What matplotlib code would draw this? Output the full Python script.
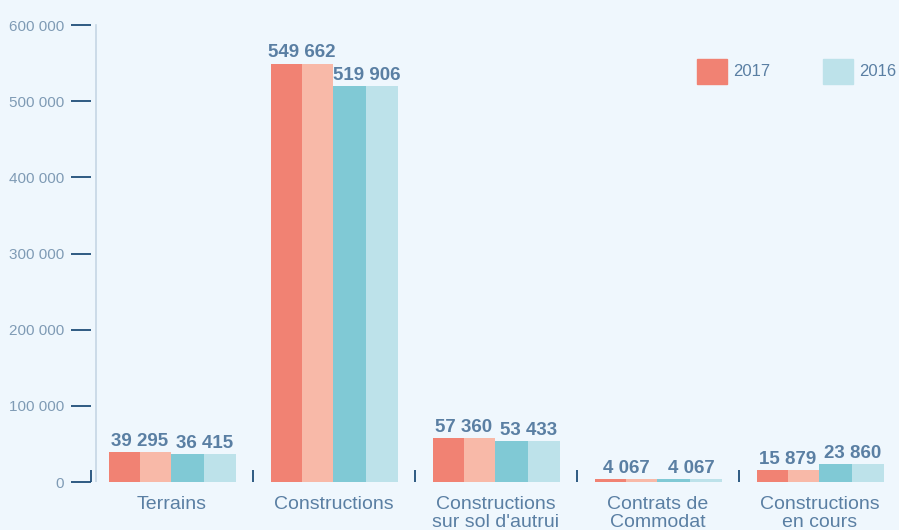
import matplotlib
matplotlib.use("Agg")
import matplotlib.pyplot as plt
from matplotlib import font_manager

categories = ["Terrains", "Constructions", "Constructions\nsur sol d'autrui", "Contrats de\nCommodat", "Constructions\nen cours"]
values_2017 = [39295, 549662, 57360, 4067, 15879]
values_2016 = [36415, 519906, 53433, 4067, 23860]
labels_2017 = ["39 295", "549 662", "57 360", "4 067", "15 879"]
labels_2016 = ["36 415", "519 906", "53 433", "4 067", "23 860"]
y_ticks = [0, 100000, 200000, 300000, 400000, 500000, 600000]
y_tick_labels = ["0", "100 000", "200 000", "300 000", "400 000", "500 000", "600 000"]
legend_labels = ["2017", "2016"]

names = {f.name for f in font_manager.fontManager.ttflist}
family = ["Liberation Sans Narrow", "Liberation Sans", "DejaVu Sans"]
family = [f for f in family if f in names] or ["DejaVu Sans"]
plt.rcParams["font.family"] = family

bg = "#eff7fd"
c17a, c17b = "#f18273", "#f8b9a8"
c16a, c16b = "#80c9d5", "#bde2ea"
text_col = "#5a7fa3"
tick_text_col = "#7f9bb5"
tick_col = "#1f4e79"

fig = plt.figure(figsize=(8.99, 5.30), dpi=100, facecolor=bg)
ax = fig.add_axes([91 / 899, 48 / 530, 811 / 899, 472 / 530], facecolor=bg)

px = 1 / 162  # one pixel in x data units
x = range(len(categories))
for i in x:
    left = i + 18 * px
    ax.bar(left, values_2017[i], width=31 * px, align="edge", color=c17a, linewidth=0)
    ax.bar(left + 31 * px, values_2017[i], width=31 * px, align="edge", color=c17b, linewidth=0)
    ax.bar(left + 62 * px, values_2016[i], width=33 * px, align="edge", color=c16a, linewidth=0)
    ax.bar(left + 95 * px, values_2016[i], width=32 * px, align="edge", color=c16b, linewidth=0)
    ax.annotate(labels_2017[i], (left + 31 * px, values_2017[i]), xytext=(0, 4.5),
                textcoords="offset points", ha="center", va="baseline",
                fontsize=13.5, fontweight="bold", color=text_col)
    ax.annotate(labels_2016[i], (left + 96 * px, values_2016[i]), xytext=(0, 4.5),
                textcoords="offset points", ha="center", va="baseline",
                fontsize=13.5, fontweight="bold", color=text_col)

ax.set_xlim(0, 811 / 162)
ax.set_ylim(0, 620000)

for side in ["top", "right", "bottom", "left"]:
    ax.spines[side].set_visible(False)
ax.axvline(5 * px, ymin=0, ymax=600000 / 620000, color="#c5d6e4", lw=1.2)

ax.set_yticks(y_ticks)
ax.set_yticklabels(y_tick_labels, fontsize=11, color=tick_text_col)
ax.tick_params(axis="y", direction="out", length=14.5, width=1.3, color=tick_col, pad=5)

ax.set_xticks(range(len(categories)))
ax.set_xticklabels([])
ax.tick_params(axis="x", which="major", direction="in", length=8.5, width=1.3, color=tick_col)
ax.set_xticks([i + 0.5 for i in x], minor=True)
ax.set_xticklabels(categories, minor=True, fontsize=14, color=text_col, linespacing=1.1)
ax.tick_params(axis="x", which="minor", length=0, pad=10)

# legend squares drawn in figure pixels
for lx, col, lab in [(697, c17a, legend_labels[0]), (823, c16b, legend_labels[1])]:
    fig.patches.append(plt.Rectangle((lx / 899, (530 - 84) / 530), 30 / 899, 25 / 530,
                                     transform=fig.transFigure, color=col, figure=fig))
    fig.text((lx + 36) / 899, (530 - 71.5) / 530, lab, fontsize=12, color=text_col,
             ha="left", va="center")

fig.savefig("out.png", dpi=100, facecolor=bg)
